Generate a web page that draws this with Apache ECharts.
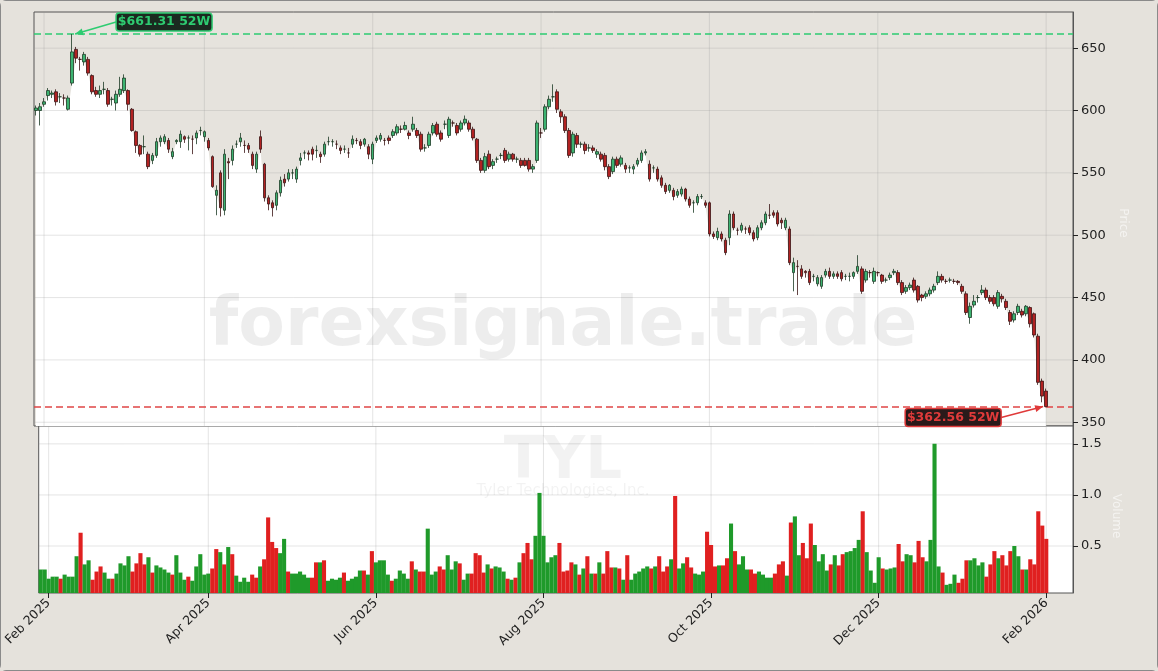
<!DOCTYPE html>
<html>
<head>
<meta charset="utf-8">
<script src="https://cdn.jsdelivr.net/npm/echarts@6/dist/echarts.min.js"></script>
<style>
  html, body { margin: 0; padding: 0; background: #e5e2dc; }
  #chart { width: 1158px; height: 671px; box-sizing: border-box; border: 1px solid #8a8a8a; border-radius: 6px; }
</style>
</head>
<body>
<div id="chart"></div>
<script>
// first trading day, holidays skipped
var startDay = '2025-01-30';
var holidays = ['2025-02-17', '2025-04-18', '2025-05-26', '2025-06-19', '2025-07-04', '2025-09-01',
    '2025-11-27', '2025-12-25', '2026-01-01', '2026-01-19'];

// [open, close, low, high]
var candles = [
    [600,602,596,604],[600,603,588,606],[605,607,603,610],[612,616,608,618],[613,614,610,616],
    [615,607,604,617],[611,611,606,614],[610,610,604,613],[601,610,600,612],[622,647,620,661.31],
    [649,642,638,651],[641,641,632,643],[639,645,636,647],[641,630,628,643],[628,615,613,629],
    [616,613,611,619],[613,616,610,620],[617,617,613,623],[616,605,603,618],[609,609,604,611],
    [606,613,600,616],[613,617,611,627],[616,626,614,629],[616,605,600,617],[601,584,583,602],
    [583,572,566,584],[572,565,563,573],[571,571,565,580],[565,555,553,567],[560,564,557,566],
    [564,575,562,578],[575,578,571,580],[575,579,573,581],[576,569,566,578],[563,567,561,570],
    [575,576,573,577],[575,581,570,584],[579,577,574,580],[578,578,568,580],[577,577,565,580],
    [578,582,573,584],[584,584,580,587],[579,583,575,584],[576,570,568,578],[563,539,538,564],
    [532,536,516,540],[550,522,515,552],[520,565,516,569],[559,558,545,562],[560,569,556,572],
    [573,573,570,576],[575,578,571,582],[572,572,566,576],[572,569,566,574],[565,556,553,567],
    [553,565,550,567],[579,569,566,584],[557,530,527,558],[530,525,520,532],[526,522,515,528],
    [524,534,520,536],[534,544,531,547],[545,542,539,549],[545,550,543,553],[550,550,545,553],
    [545,553,542,555],[560,562,556,566],[566,566,561,568],[566,565,560,568],[569,565,560,571],
    [568,568,562,572],[565,563,558,567],[565,573,563,575],[575,575,572,579],[575,575,571,577],
    [573,573,569,576],[570,568,565,572],[569,569,566,572],[566,566,562,570],[573,577,570,580],
    [576,576,573,578],[575,572,569,577],[573,577,571,578],[571,565,561,573],[561,573,557,575],
    [576,578,574,580],[577,580,575,582],[576,576,572,578],[578,576,573,580],[580,583,578,585],
    [582,587,580,589],[585,585,582,588],[585,588,584,591],[582,580,577,584],[585,589,583,595],
    [584,580,578,586],[581,569,567,583],[570,570,567,573],[572,581,570,583],[582,588,580,590],
    [589,581,579,591],[582,577,575,584],[589,589,585,592],[580,593,578,595],[590,590,587,592],
    [588,582,580,590],[585,590,583,592],[590,593,588,596],[590,585,583,592],[585,578,576,587],
    [577,560,558,578],[560,552,550,562],[552,563,550,566],[565,555,553,568],[556,559,553,561],
    [561,561,558,563],[564,564,561,566],[568,560,558,570],[561,565,559,567],[565,561,559,566],
    [561,561,558,563],[560,556,554,562],[560,556,555,562],[560,553,551,562],[553,555,550,557],
    [560,590,558,592],[582,582,578,586],[585,603,583,605],[603,609,601,612],[611,611,607,621],
    [615,601,598,617],[599,595,590,601],[595,584,582,597],[584,564,562,586],[566,581,563,583],
    [580,573,570,582],[573,573,570,575],[573,568,565,575],[570,570,567,573],[570,568,566,572],
    [565,567,562,569],[565,561,559,567],[564,555,552,566],[555,547,545,557],[551,561,549,563],
    [561,556,554,563],[557,562,555,564],[556,553,550,558],[554,554,550,556],[553,555,549,557],
    [557,560,555,562],[560,566,558,568],[566,567,564,569],[557,545,543,560],[554,554,550,556],
    [553,545,543,555],[546,540,538,548],[540,535,533,542],[536,540,534,541],[536,531,528,538],
    [532,535,530,537],[533,537,531,539],[537,529,527,538],[529,524,522,531],[526,526,518,528],
    [526,531,524,533],[531,531,529,533],[526,524,522,528],[526,501,499,527],[501,499,497,503],
    [498,503,496,506],[501,497,495,503],[496,486,484,498],[498,517,492,520],[517,506,504,519],
    [504,504,500,506],[504,508,502,510],[505,505,501,507],[506,502,500,508],[502,497,495,504],
    [498,506,496,508],[506,510,504,512],[510,517,508,519],[516,516,513,525],[518,516,514,520],
    [518,509,507,520],[512,510,505,514],[506,512,504,514],[505,478,476,507],[470,478,455,482],
    [475,475,452,480],[473,467,465,476],[471,470,466,472],[471,462,460,473],[467,467,463,469],
    [461,466,459,468],[459,466,457,468],[468,471,466,473],[471,467,465,474],[467,469,465,471],
    [469,467,465,471],[470,465,463,472],[467,467,464,469],[467,467,463,470],[467,470,465,471],
    [471,475,469,484],[473,455,453,475],[464,471,462,473],[470,470,466,472],[463,471,461,474],
    [470,470,467,471],[468,463,461,469],[464,464,462,466],[466,468,464,470],[470,471,468,473],
    [470,462,460,472],[462,454,452,464],[455,458,453,460],[458,460,456,462],[464,456,454,466],
    [459,448,446,460],[452,450,447,453],[451,453,449,455],[453,456,451,458],[456,459,454,461],
    [462,467,460,471],[467,464,462,469],[463,463,461,465],[464,464,462,466],[463,463,461,465],
    [463,462,460,464],[459,455,453,461],[453,438,436,455],[434,443,429,446],[444,447,442,452],
    [450,450,446,452],[454,456,452,460],[456,450,448,458],[450,447,445,452],[450,445,443,452],
    [443,454,441,456],[451,449,446,453],[447,442,440,449],[438,431,428,440],[432,437,430,439],
    [438,443,436,445],[439,436,434,441],[437,443,435,444],[442,429,426,443],[437,420,418,438],
    [419,382,380,421],[383,371,366,385],[375,362.56,362,377]
];

// volume, millions
var volumes = [
    0.27,0.27,0.18,0.2,0.2,0.18,0.22,0.2,0.2,0.4,0.63,0.32,0.36,0.17,0.25,0.3,0.24,0.18,0.18,0.23,
    0.33,0.31,0.4,0.25,0.33,0.43,0.32,0.39,0.24,0.31,0.29,0.27,0.24,0.22,0.41,0.24,0.17,0.2,0.16,0.3,
    0.42,0.22,0.23,0.28,0.47,0.44,0.32,0.49,0.42,0.21,0.15,0.19,0.15,0.22,0.19,0.3,0.37,0.78,0.54,0.48,
    0.43,0.57,0.25,0.23,0.23,0.25,0.22,0.19,0.19,0.34,0.34,0.36,0.16,0.18,0.17,0.19,0.24,0.16,0.18,0.2,
    0.26,0.26,0.22,0.45,0.34,0.36,
    0.36,0.22,0.16,0.18,0.26,0.23,0.18,0.35,0.27,0.25,0.25,0.67,0.22,0.25,0.3,0.27,0.41,0.27,0.35,0.33,
    0.17,0.23,0.23,0.43,0.41,0.24,0.32,0.28,0.3,0.29,0.25,0.18,0.17,0.19,0.34,0.43,0.53,0.37,0.6,1.02,
    0.6,0.34,0.39,0.41,0.53,0.25,0.26,0.34,0.32,0.22,0.28,0.4,0.23,0.23,0.34,0.23,0.45,0.29,0.29,0.28,
    0.17,0.41,0.17,0.23,0.25,0.28,0.3,0.28,0.3,0.4,0.25,0.3,0.37,0.99,0.28,0.33,0.39,0.29,0.23,0.22,
    0.25,0.64,0.51,0.3,0.31,
    0.31,0.38,0.72,0.45,0.32,0.4,0.27,0.27,0.23,0.25,0.22,0.19,0.19,0.23,0.32,0.35,0.21,0.73,0.79,0.41,
    0.53,0.38,0.72,0.51,0.35,0.42,0.26,0.32,0.41,0.31,0.42,0.44,0.45,0.48,0.56,0.84,0.44,0.26,0.14,0.39,
    0.28,0.27,0.28,0.29,0.52,0.35,0.42,0.41,0.34,0.55,0.39,0.35,0.56,1.5,0.3,0.24,0.12,0.13,0.22,0.14,
    0.18,0.36,0.36,0.38,0.31,0.34,0.2,0.32,0.45,0.38,0.41,0.31,0.45,0.5,0.4,0.27,0.27,0.37,0.32,0.84,
    0.7,0.57
];

var priceTicks = [350, 400, 450, 500, 550, 600, 650];
var volumeTicks = [0.5, 1.0, 1.5];
var tickMonths = ['2025-02', '2025-04', '2025-06', '2025-08', '2025-10', '2025-12', '2026-02'];
var high52 = 661.31;
var low52 = 362.56;

var upColor = '#3cb371', downColor = '#b22222';
var volUp = '#1f9a2a', volDown = '#e02020';
var monthNames = ['Jan', 'Feb', 'Mar', 'Apr', 'May', 'Jun', 'Jul', 'Aug', 'Sep', 'Oct', 'Nov', 'Dec'];

function tradingDays(n) {
    var out = [];
    var d = new Date(startDay + 'T00:00:00Z');
    while (out.length < n) {
        var s = d.toISOString().slice(0, 10);
        var wd = d.getUTCDay();
        if (wd !== 0 && wd !== 6 && holidays.indexOf(s) < 0) out.push(s);
        d.setUTCDate(d.getUTCDate() + 1);
    }
    return out;
}

// x is the trading-day number (offset so that zero lies outside the axis)
var X0 = 1000;
var dates = tradingDays(candles.length);
var kData = [], floorLine = [], volData = [];
candles.forEach(function (c, i) {
    kData.push([X0 + i, c[0], c[1], c[2], c[3]]);
    floorLine.push([X0 + i, Math.min(c[0], c[1])]);
    volData.push({ value: [X0 + i, volumes[i] || 0], itemStyle: { color: c[1] >= c[0] ? volUp : volDown } });
});
// month ticks: first trading day of the month (Feb 2026 falls after the last bar)
var tickIdx = [], tickName = {};
tickMonths.forEach(function (m) {
    var k = dates.findIndex(function (d) { return d.slice(0, 7) === m; });
    if (k < 0) k = dates.length;
    tickIdx.push(X0 + k);
    tickName[X0 + k] = monthNames[+m.slice(5, 7) - 1] + ' ' + m.slice(0, 4);
});
var hiIdx = 0;
candles.forEach(function (c, i) { if (c[3] > candles[hiIdx][3]) hiIdx = i; });

var chart = echarts.init(document.getElementById('chart'));
function xAxisFor(idx, labels) {
    return {
        type: 'value', gridIndex: idx, min: X0 - 0.5, max: X0 + 258.7,
        axisLine: { show: false },
        axisTick: { show: labels, customValues: tickIdx, length: 5, lineStyle: { color: '#222' } },
        splitLine: { show: false },
        axisLabel: {
            show: labels, customValues: tickIdx, rotate: 45, color: '#222', fontSize: 12.5, margin: 8,
            formatter: function (v) { return tickName[v] || ''; }
        }
    };
}
function yAxisFor(idx, min, max, ticks, fmt) {
    return {
        gridIndex: idx, position: 'right', min: min, max: max,
        axisLine: { show: true, onZero: false, lineStyle: { color: '#555' } },
        axisTick: { show: true, customValues: ticks, length: 5, lineStyle: { color: '#222' } },
        axisLabel: { customValues: ticks, color: '#222', fontSize: 13, margin: 8, formatter: fmt },
        splitLine: { show: false }
    };
}

var option = {
    backgroundColor: '#e5e2dc',
    animation: false,
    textStyle: { fontFamily: 'DejaVu Sans' },
    grid: [
        { left: 33, right: 84, top: 11, height: 414, backgroundColor: '#e6e3dd', show: true, borderColor: '#555', borderWidth: 1 },
        { left: 33, right: 84, top: 425, bottom: 77, backgroundColor: '#fff', show: true, borderColor: '#555', borderWidth: 1 }
    ],
    xAxis: [xAxisFor(0, false), xAxisFor(1, true)],
    yAxis: [
        yAxisFor(0, 347, 679, priceTicks, function (v) { return String(v); }),
        yAxisFor(1, 0.04, 1.675, volumeTicks, function (v) { return v.toFixed(1); })
    ],
    series: [
        {
            type: 'line', xAxisIndex: 0, yAxisIndex: 0, data: floorLine, symbol: 'none',
            lineStyle: { width: 0 }, areaStyle: { color: '#ffffff', opacity: 1, origin: 'start' }, z: 1, silent: true
        },
        {
            type: 'candlestick', xAxisIndex: 0, yAxisIndex: 0, data: kData, barWidth: 3, z: 5,
            itemStyle: { color: upColor, color0: downColor, borderColor: '#1d3b26', borderColor0: '#3a1414', borderWidth: 0.8 },
            markLine: {
                symbol: 'none', silent: true, label: { show: false },
                data: [
                    { yAxis: high52, lineStyle: { color: '#2ecc71', type: [7, 4], width: 1.5 } },
                    { yAxis: low52, lineStyle: { color: '#e04545', type: [7, 4], width: 1.5 } }
                ]
            }
        },
        { type: 'bar', xAxisIndex: 1, yAxisIndex: 1, data: volData, barWidth: 4.1 }
    ]
};
chart.setOption(option);

// grid lines through the axes' own scales
function gridLines() {
    var out = [], col = 'rgba(150,150,150,0.25)';
    [0, 1].forEach(function (gi) {
        var r = chart.getModel().getComponent('grid', gi).coordinateSystem.getRect();
        tickIdx.forEach(function (t) {
            var x = chart.convertToPixel({ xAxisIndex: gi }, t);
            out.push({ type: 'line', silent: true, z: 2, shape: { x1: x, y1: r.y, x2: x, y2: r.y + r.height }, style: { stroke: col, lineWidth: 1 } });
        });
        (gi === 0 ? priceTicks : volumeTicks).forEach(function (v) {
            var y = chart.convertToPixel({ yAxisIndex: gi }, v);
            out.push({ type: 'line', silent: true, z: 2, shape: { x1: r.x, y1: y, x2: r.x + r.width, y2: y }, style: { stroke: col, lineWidth: 1 } });
        });
    });
    return out;
}

function arrowHead(x1, y1, x2, y2) {
    var a = Math.atan2(y2 - y1, x2 - x1), L = 8, W = 3.5;
    var bx = x2 - L * Math.cos(a), by = y2 - L * Math.sin(a);
    return [[x2, y2], [bx - W * Math.sin(a), by + W * Math.cos(a)], [bx + W * Math.sin(a), by - W * Math.cos(a)]];
}
function tag(idx, price, dx, dy, text, color, bg) {
    var p = chart.convertToPixel({ gridIndex: 0 }, [X0 + idx, price]);
    var bx = p[0] + dx, by = p[1] + dy, w = 96, h = 18;
    var ex = dx > 0 ? bx - w / 2 : bx + w / 2;
    var tip = [p[0] + (dx > 0 ? 3 : -3), p[1]];
    return [
        { type: 'line', z: 20, shape: { x1: ex, y1: by, x2: tip[0], y2: tip[1] }, style: { stroke: color, lineWidth: 1.6 } },
        { type: 'polygon', z: 20, shape: { points: arrowHead(ex, by, tip[0], tip[1]) }, style: { fill: color } },
        { type: 'rect', z: 21, shape: { x: bx - w / 2, y: by - h / 2, width: w, height: h, r: 3 }, style: { fill: bg, stroke: color, lineWidth: 1.5 } },
        { type: 'text', z: 22, x: bx, y: by, style: { text: text, fill: color, font: 'bold 12.5px DejaVu Sans', align: 'center', verticalAlign: 'middle' } }
    ];
}

var g = gridLines();
g = g.concat(tag(hiIdx, high52, 92, -12, '$661.31 52W', '#2ecc71', '#1b2a20'));
g = g.concat(tag(candles.length - 1, low52, -93, 11, '$362.56 52W', '#e03a3a', '#2a1a1a'));
g.push(
    { type: 'text', x: 562, y: 326, z: 3, silent: true, style: { text: 'forexsignale.trade', fill: 'rgba(0,0,0,0.07)', font: 'bold 68px DejaVu Sans', align: 'center', verticalAlign: 'middle' } },
    { type: 'text', x: 562, y: 462, z: 3, silent: true, style: { text: 'TYL', fill: 'rgba(0,0,0,0.05)', font: 'bold 58px DejaVu Sans', align: 'center', verticalAlign: 'middle' } },
    { type: 'text', x: 562, y: 490, z: 3, silent: true, style: { text: 'Tyler Technologies, Inc.', fill: 'rgba(0,0,0,0.05)', font: '15px DejaVu Sans', align: 'center', verticalAlign: 'middle' } },
    { type: 'text', x: 1122, y: 222, rotation: -Math.PI / 2, silent: true, style: { text: 'Price', fill: 'rgba(255,255,255,0.6)', font: '12px DejaVu Sans', align: 'center', verticalAlign: 'middle' } },
    { type: 'text', x: 1115, y: 515, rotation: -Math.PI / 2, silent: true, style: { text: 'Volume', fill: 'rgba(255,255,255,0.6)', font: '12px DejaVu Sans', align: 'center', verticalAlign: 'middle' } }
);
chart.setOption({ graphic: g });
</script>
</body>
</html>
